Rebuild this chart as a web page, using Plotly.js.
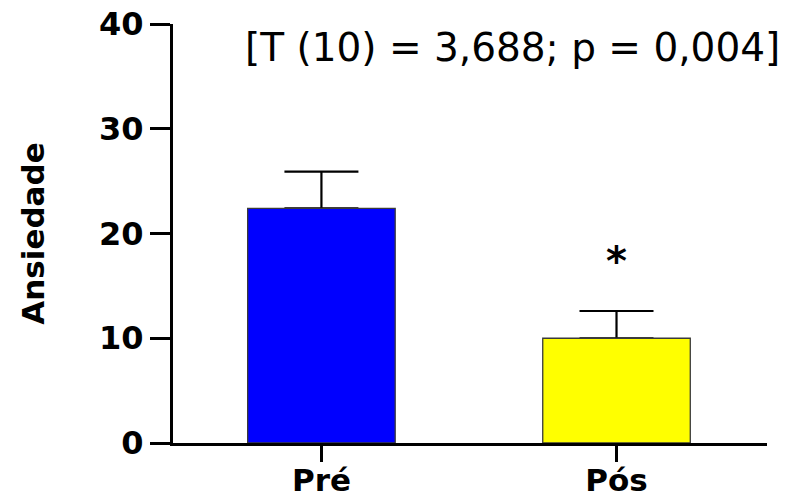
<!DOCTYPE html>
<html>
<head>
<meta charset="utf-8">
<script src="https://cdn.plot.ly/plotly-3.0.1.min.js"></script>
<style>
  html, body { margin: 0; padding: 0; background: #fff; }
  #chart { width: 789px; height: 500px; }
</style>
</head>
<body>
<div id="chart"></div>
<script>
// Data
const categories = ["Pré", "Pós"];
const means = [22.4, 10.0];
const errUpper = [3.5, 2.6];
const barColors = ["#0000FF", "#FFFF00"];
const yTickVals = [0, 10, 20, 30, 40];
const statText = "[T (10) = 3,688; p = 0,004]";
const sigMarks = ["", "*"];
const sigLevel = [null, 17.4];

const zeros = means.map(() => 0);

// Trace 0: invisible bars carrying the (upper-only) error bars, drawn underneath
const errTrace = {
  type: "bar",
  x: categories,
  y: means,
  width: 0.5,
  marker: { color: "rgba(0,0,0,0)", line: { width: 0 } },
  error_y: {
    type: "data",
    symmetric: false,
    array: errUpper,
    arrayminus: zeros,
    color: "#000000",
    thickness: 2.2,
    width: 37
  },
  hoverinfo: "skip",
  showlegend: false
};

// Trace 1: the visible bars
const barTrace = {
  type: "bar",
  x: categories,
  y: means,
  width: 0.5,
  marker: { color: barColors, line: { color: "#3a3a3a", width: 1.3 } },
  showlegend: false
};

const annotations = [
  {
    text: statText,
    xref: "paper", yref: "paper",
    x: 0.572, y: 0.943,
    xanchor: "center", yanchor: "middle",
    showarrow: false,
    font: { family: "DejaVu Sans", size: 39, color: "#000" }
  }
];
categories.forEach((c, i) => {
  if (sigMarks[i]) {
    annotations.push({
      text: sigMarks[i],
      xref: "x", yref: "y",
      x: c, y: sigLevel[i],
      xanchor: "center", yanchor: "middle",
      showarrow: false,
      font: { family: "DejaVu Sans", size: 40, color: "#000", weight: "bold" }
    });
  }
});

const layout = {
  width: 789,
  height: 500,
  margin: { l: 173, r: 22, t: 24, b: 57 },
  paper_bgcolor: "#fff",
  plot_bgcolor: "#fff",
  barmode: "overlay",
  showlegend: false,
  xaxis: {
    type: "category",
    range: [-0.503, 1.51],
    showgrid: false,
    zeroline: false,
    showline: true,
    linecolor: "#000",
    linewidth: 3,
    ticks: "outside",
    ticklen: 16,
    tickwidth: 3,
    tickcolor: "#000",
    ticklabelstandoff: -8,
    tickfont: { family: "DejaVu Sans", size: 31, color: "#000", weight: "bold" }
  },
  yaxis: {
    range: [0, 40],
    tickvals: yTickVals,
    ticktext: yTickVals.map(String),
    showgrid: false,
    zeroline: false,
    showline: true,
    linecolor: "#000",
    linewidth: 3,
    ticks: "outside",
    ticklen: 20,
    tickwidth: 3,
    tickcolor: "#000",
    tickfont: { family: "DejaVu Sans", size: 32, color: "#000", weight: "bold" },
    title: {
      text: "Ansiedade",
      font: { family: "DejaVu Sans", size: 31, color: "#000", weight: "bold" },
      standoff: 46
    }
  },
  annotations: annotations
};

Plotly.newPlot("chart", [errTrace, barTrace], layout, { staticPlot: true, displayModeBar: false });
</script>
</body>
</html>
